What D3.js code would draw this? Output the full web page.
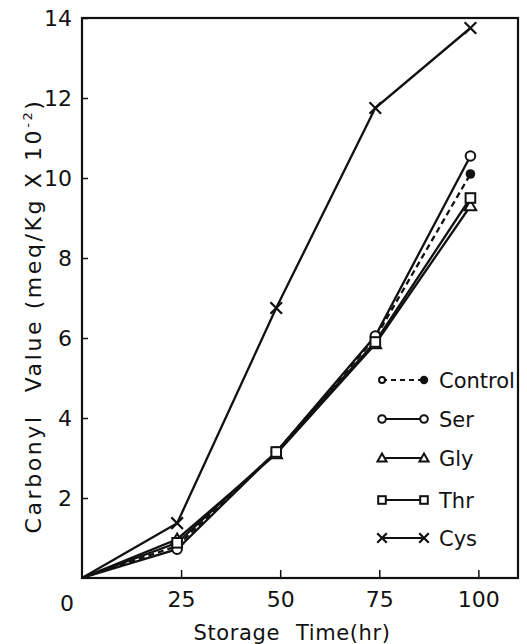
<!DOCTYPE html>
<html>
<head>
<meta charset="utf-8">
<script src="https://cdn.jsdelivr.net/npm/d3@7"></script>
<style>
  html, body { margin: 0; padding: 0; background: #fff; }
  svg { display: block; }
  text { font-family: "DejaVu Sans", sans-serif; fill: #111; }
</style>
</head>
<body>
<svg id="chart" width="527" height="644"></svg>
<script>
// Storage time (hr) at which samples were measured
const hours = [0, 24, 49, 74, 98];
// Carbonyl value (meq/Kg x 10^-2) for each treatment
const control = [0, 0.8, 3.15, 6.0, 10.1];
const ser = [0, 0.72, 3.15, 6.05, 10.55];
const gly = [0, 0.97, 3.1, 5.85, 9.3];
const thr = [0, 0.88, 3.15, 5.9, 9.5];
const cys = [0, 1.37, 6.75, 11.75, 13.75];

const xTicks = [25, 50, 75, 100];
const yTicks = [2, 4, 6, 8, 10, 12, 14];
const seriesNames = ["Control", "Ser", "Gly", "Thr", "Cys"];

const series = [
  { name: seriesNames[0], values: control, marker: "dot", dashed: true },
  { name: seriesNames[1], values: ser, marker: "circle" },
  { name: seriesNames[2], values: gly, marker: "triangle" },
  { name: seriesNames[3], values: thr, marker: "square" },
  { name: seriesNames[4], values: cys, marker: "cross" }
];

const svg = d3.select("#chart");
const plotLeft = 82, plotRight = 518, plotTop = 18, plotBottom = 578;

const x = d3.scaleLinear().domain([0, 110]).range([plotLeft, plotRight]);
const y = d3.scaleLinear().domain([0, 14]).range([plotBottom, plotTop]);

const ink = "#111";

// frame
svg.append("rect")
  .attr("x", plotLeft).attr("y", plotTop)
  .attr("width", plotRight - plotLeft).attr("height", plotBottom - plotTop)
  .attr("fill", "none").attr("stroke", ink).attr("stroke-width", 2.2);

// y axis with inward ticks
const yAxis = d3.axisLeft(y).tickValues(yTicks).tickSizeInner(-6).tickSizeOuter(0)
  .tickPadding(10).tickFormat(d3.format("d"));
const gy = svg.append("g").attr("transform", `translate(${plotLeft},0)`).call(yAxis);
gy.select(".domain").remove();
gy.selectAll(".tick line").attr("stroke", ink).attr("stroke-width", 1.5);
gy.selectAll(".tick text").attr("font-size", 22).attr("fill", ink)
  .attr("font-family", "DejaVu Sans, sans-serif");

// x axis with inward ticks
const xAxis = d3.axisBottom(x).tickValues(xTicks).tickSizeInner(-8).tickSizeOuter(0)
  .tickPadding(13).tickFormat(d3.format("d"));
const gx = svg.append("g").attr("transform", `translate(0,${plotBottom})`).call(xAxis);
gx.select(".domain").remove();
gx.selectAll(".tick line").attr("stroke", ink).attr("stroke-width", 1.5);
gx.selectAll(".tick text").attr("font-size", 22).attr("fill", ink)
  .attr("font-family", "DejaVu Sans, sans-serif");

// shared origin label
svg.append("text")
  .attr("x", x(0) - 15).attr("y", plotBottom + 33)
  .attr("text-anchor", "middle").attr("font-size", 22).text("0");

// axis titles
const xt = svg.append("text")
  .attr("x", 292).attr("y", 640)
  .attr("text-anchor", "middle").attr("font-size", 21)
  .attr("letter-spacing", 0.6);
xt.append("tspan").text("Storage");
xt.append("tspan").attr("dx", 16).text("Time(hr)");

const yt = svg.append("text")
  .attr("transform", "translate(41,316) rotate(-90)")
  .attr("text-anchor", "middle").attr("font-size", 22)
  .attr("letter-spacing", 2.6);
yt.append("tspan").text("Carbonyl");
yt.append("tspan").attr("dx", 22).text("Value (meq/Kg X 10");
yt.append("tspan").attr("dy", -9).attr("font-size", 13).text("-2");
yt.append("tspan").attr("dy", 9).text(")");

// lines
const line = d3.line().x((d, i) => x(hours[i])).y(d => y(d));
const plot = svg.append("g");

series.forEach(s => {
  plot.append("path")
    .datum(s.values)
    .attr("d", line)
    .attr("fill", "none")
    .attr("stroke", ink)
    .attr("stroke-width", 2.3)
    .attr("stroke-dasharray", s.dashed ? "6,4" : null);
});

function drawMarker(g, type, cx, cy, size) {
  const r = size || 4.8;
  if (type === "dot") {
    g.append("circle").attr("cx", cx).attr("cy", cy).attr("r", r)
      .attr("fill", ink);
  } else if (type === "circle") {
    g.append("circle").attr("cx", cx).attr("cy", cy).attr("r", r)
      .attr("fill", "#fff").attr("stroke", ink).attr("stroke-width", 2);
  } else if (type === "triangle") {
    const h = r * 1.2;
    g.append("path")
      .attr("d", `M${cx},${cy - h}L${cx + h},${cy + h * 0.75}L${cx - h},${cy + h * 0.75}Z`)
      .attr("fill", "#fff").attr("stroke", ink).attr("stroke-width", 2);
  } else if (type === "square") {
    g.append("rect").attr("x", cx - r).attr("y", cy - r)
      .attr("width", 2 * r).attr("height", 2 * r)
      .attr("fill", "#fff").attr("stroke", ink).attr("stroke-width", 2);
  } else if (type === "cross") {
    const h = r + 1;
    g.append("path")
      .attr("d", `M${cx - h},${cy - h}L${cx + h},${cy + h}M${cx - h},${cy + h}L${cx + h},${cy - h}`)
      .attr("stroke", ink).attr("stroke-width", 2.2).attr("fill", "none");
  }
}

// markers
series.forEach(s => {
  s.values.forEach((v, i) => {
    if (i === 0) return;
    drawMarker(plot, s.marker, x(hours[i]), y(v));
  });
});

// legend
const legend = svg.append("g");
const legY = [380, 419, 458, 500, 538];
series.forEach((s, i) => {
  const ly = legY[i];
  legend.append("line")
    .attr("x1", 382).attr("x2", 424).attr("y1", ly).attr("y2", ly)
    .attr("stroke", ink).attr("stroke-width", 2)
    .attr("stroke-dasharray", s.dashed ? "5,4" : null);
  if (s.marker === "dot") {
    drawMarker(legend, "circle", 382, ly, 3);
    drawMarker(legend, "dot", 424, ly, 4.2);
  } else {
    drawMarker(legend, s.marker, 382, ly, 3.8);
    drawMarker(legend, s.marker, 424, ly, 3.8);
  }
  legend.append("text")
    .attr("x", 439).attr("y", ly + 8)
    .attr("font-size", 21).text(s.name);
});
</script>
</body>
</html>
